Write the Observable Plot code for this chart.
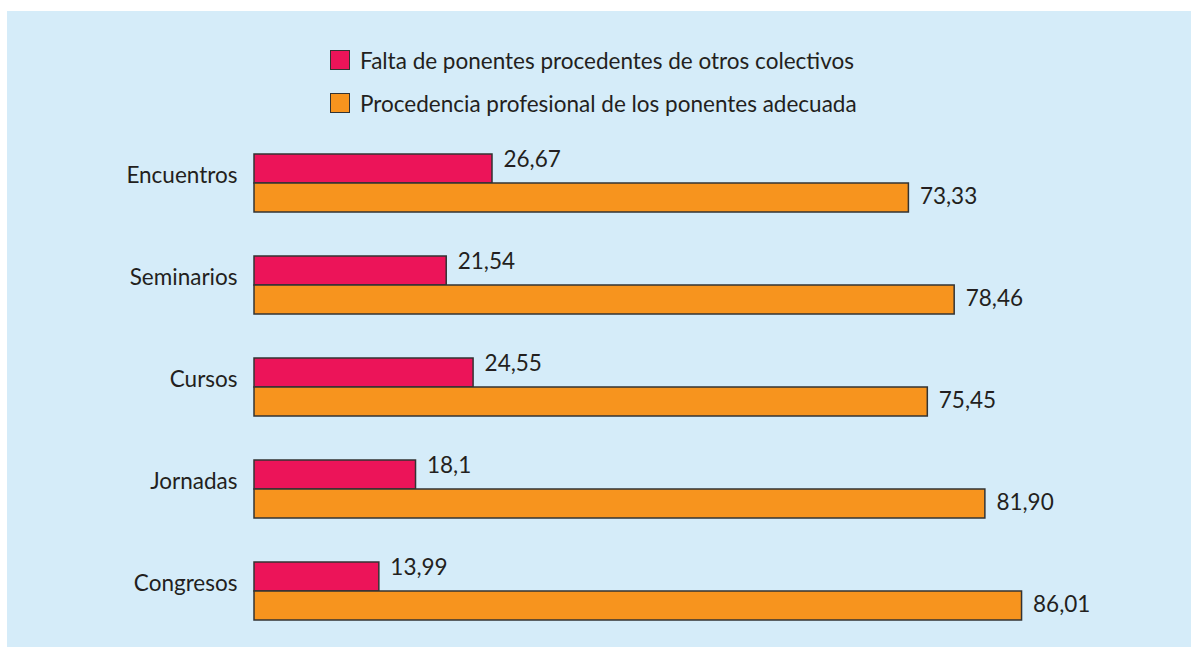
<!DOCTYPE html>
<html><head><meta charset="utf-8">
<script src="https://cdn.jsdelivr.net/npm/d3@7"></script>
<script src="https://cdn.jsdelivr.net/npm/@observablehq/plot@0.6"></script>
<style>
body{margin:0;background:#fff;font-family:Lato,sans-serif;width:1191px;height:647px;overflow:hidden;position:relative}
#panel{position:absolute;left:7px;top:11px;width:1184px;height:636px;background:#d5ecf9;}
#legend{position:absolute;left:330px;top:50px;color:#231f20;font-size:22.5px;font-family:Lato,sans-serif}
.item{display:flex;align-items:center;height:20px;margin-bottom:23px;white-space:nowrap}
.sw{width:18px;height:18px;border:1px solid #333;margin-right:10px;box-sizing:content-box;flex:none}
#chart{position:absolute;left:0;top:130px}
</style></head><body>
<div id="panel"></div>
<div id="legend"></div>
<div id="chart"></div>
<script>
const categories = ["Encuentros", "Seminarios", "Cursos", "Jornadas", "Congresos"];
const seriesNames = ["Falta de ponentes procedentes de otros colectivos", "Procedencia profesional de los ponentes adecuada"];
const falta = [26.67, 21.54, 24.55, 18.1, 13.99];
const procedencia = [73.33, 78.46, 75.45, 81.90, 86.01];
const faltaLabels = ["26,67", "21,54", "24,55", "18,1", "13,99"];
const procLabels = ["73,33", "78,46", "75,45", "81,90", "86,01"];
const colors = ["#ec1459", "#f7941e"];

const data = [];
categories.forEach((c, i) => {
  data.push({cat: c, series: seriesNames[0], value: falta[i], label: faltaLabels[i]});
  data.push({cat: c, series: seriesNames[1], value: procedencia[i], label: procLabels[i]});
});

const legend = document.getElementById("legend");
seriesNames.forEach((s, i) => {
  const row = document.createElement("div");
  row.className = "item";
  const sw = document.createElement("span");
  sw.className = "sw";
  sw.style.background = colors[i];
  const t = document.createElement("span");
  t.textContent = s;
  row.appendChild(sw); row.appendChild(t);
  legend.appendChild(row);
});

const chart = Plot.plot({
  width: 1191,
  height: 517,
  marginLeft: 254,
  marginRight: 44.6,
  marginTop: 22,
  marginBottom: 26,
  style: {background: "transparent", fontFamily: "Lato, sans-serif", color: "#231f20"},
  x: {domain: [0, 100], axis: null},
  y: {domain: seriesNames, padding: 0, axis: null},
  fy: {domain: categories, paddingInner: 0.4244, paddingOuter: 0, label: null},
  color: {domain: seriesNames, range: colors},
  marks: [
    Plot.barX(data, {x: "value", y: "series", fy: "cat", fill: "series", stroke: "#333", strokeWidth: 1.5}),
    Plot.text(data.filter(d => d.series === seriesNames[0]), {x: "value", y: "series", fy: "cat", text: "label", textAnchor: "start", dx: 11, dy: -9, fontSize: 22.5, fill: "#231f20"}),
    Plot.text(data.filter(d => d.series === seriesNames[1]), {x: "value", y: "series", fy: "cat", text: "label", textAnchor: "start", dx: 11, dy: -1, fontSize: 22.5, fill: "#231f20"}),
    Plot.axisFy({anchor: "left", tickSize: 0, tickPadding: 17, fontSize: 22.5, dy: -7, label: null, fill: "#231f20"})
  ]
});
document.getElementById("chart").appendChild(chart);
</script>
</body></html>
